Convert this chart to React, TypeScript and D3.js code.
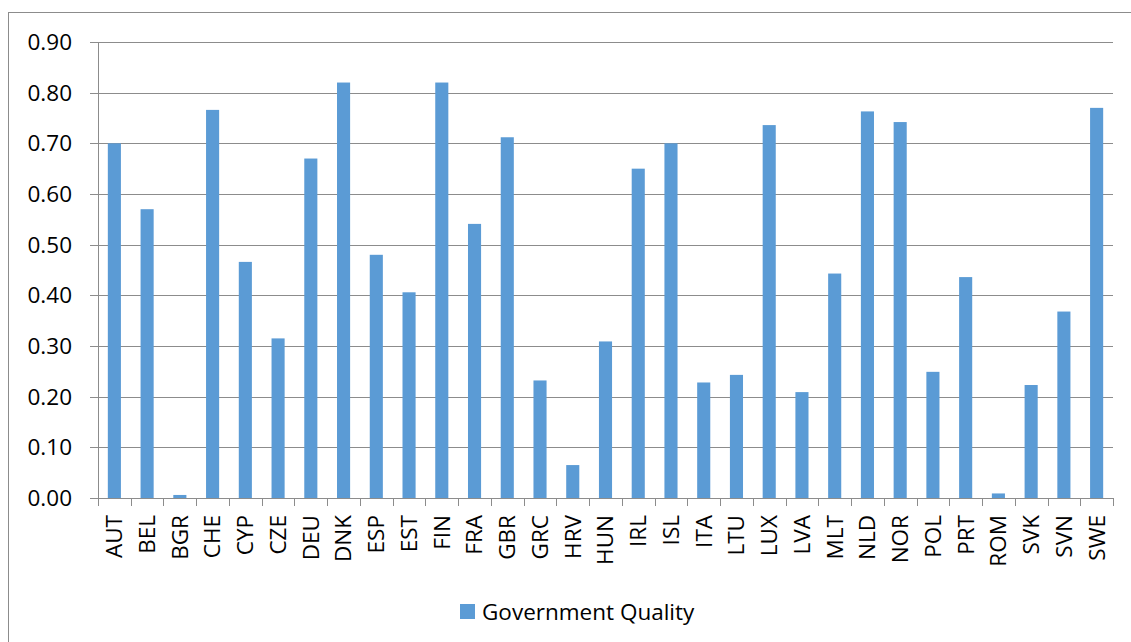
import React from 'react';
import * as d3 from 'd3';

const countries = [
  'AUT', 'BEL', 'BGR', 'CHE', 'CYP', 'CZE', 'DEU', 'DNK', 'ESP', 'EST', 'FIN',
  'FRA', 'GBR', 'GRC', 'HRV', 'HUN', 'IRL', 'ISL', 'ITA', 'LTU', 'LUX', 'LVA',
  'MLT', 'NLD', 'NOR', 'POL', 'PRT', 'ROM', 'SVK', 'SVN', 'SWE'
];

const quality = [
  0.700, 0.570, 0.006, 0.766, 0.466, 0.315, 0.670, 0.820, 0.480, 0.406, 0.820,
  0.541, 0.712, 0.232, 0.065, 0.309, 0.650, 0.700, 0.228, 0.243, 0.736, 0.209,
  0.443, 0.763, 0.742, 0.249, 0.436, 0.009, 0.223, 0.368, 0.770
];

const yTicks = [0, 0.1, 0.2, 0.3, 0.4, 0.5, 0.6, 0.7, 0.8, 0.9];

const seriesName = 'Government Quality';

export default function App() {
  const width = 1131;
  const height = 642;
  const margin = { top: 42, right: 18, bottom: 144, left: 98 };
  const plotW = width - margin.left - margin.right;
  const plotH = height - margin.top - margin.bottom;

  const x = d3.scaleBand<string>()
    .domain(countries)
    .range([0, plotW])
    .paddingInner(0.6)
    .paddingOuter(0.3);

  const y = d3.scaleLinear().domain([0, 0.9]).range([plotH, 0]);

  const step = plotW / countries.length;
  const font = '"Open Sans", "DejaVu Sans", sans-serif';
  const fs = 22.5;
  const gridColor = '#8c8c8c';

  return (
    <svg
      width={width}
      height={height}
      style={{ position: 'absolute', left: 0, top: 0, background: '#fff' }}
      fontFamily={font}
    >
      <rect x={8.5} y={12.5} width={width + 10} height={height + 10} fill="#fff" stroke="#8c8c8c" />
      <g transform={`translate(${margin.left},${margin.top})`}>
        {/* horizontal grid + y ticks */}
        {yTicks.map(t => (
          <g key={t}>
            <line x1={-8} x2={plotW} y1={Math.round(y(t)) + 0.5} y2={Math.round(y(t)) + 0.5} stroke={gridColor} />
            <text
              x={-26}
              y={y(t)}
              dy="0.35em"
              textAnchor="end"
              fontSize={fs}
              fill="#000"
            >
              {d3.format('.2f')(t)}
            </text>
          </g>
        ))}
        {/* y axis line */}
        <line x1={0.5} x2={0.5} y1={0} y2={plotH + 8} stroke={gridColor} />
        {/* x ticks */}
        {countries.map((c, i) => (
          <line
            key={'t' + c}
            x1={Math.round(step * (i + 1)) + 0.5}
            x2={Math.round(step * (i + 1)) + 0.5}
            y1={plotH}
            y2={plotH + 8}
            stroke={gridColor}
          />
        ))}
        {/* bars */}
        {countries.map((c, i) => (
          <rect
            key={c}
            x={x(c)}
            y={y(quality[i])}
            width={x.bandwidth()}
            height={plotH - y(quality[i])}
            fill="#5b9bd5"
          />
        ))}
        {/* x labels */}
        {countries.map(c => {
          const cx = (x(c) || 0) + x.bandwidth() / 2;
          return (
            <text
              key={'l' + c}
              transform={`translate(${cx},${plotH + 17}) rotate(-90)`}
              textAnchor="end"
              dy="0.35em"
              fontSize={fs}
              fill="#000"
            >
              {c}
            </text>
          );
        })}
      </g>
      {/* legend */}
      <rect x={460} y={604} width={15} height={15} fill="#5b9bd5" />
      <text x={482} y={620} fontSize={fs} fill="#000">{seriesName}</text>
    </svg>
  );
}
